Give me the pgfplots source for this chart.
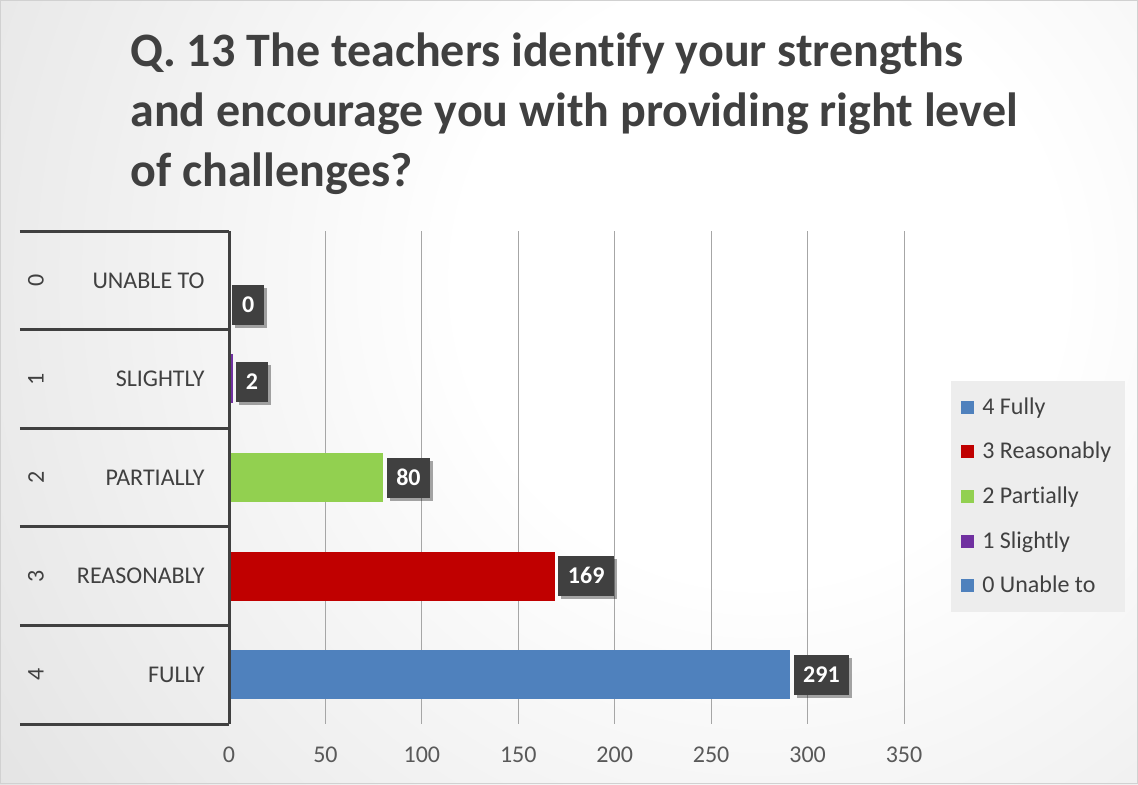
\documentclass[border=0pt]{standalone}
\usepackage{fontspec}
\setmainfont{Carlito}[Ligatures=NoCommon]
\usepackage{pgfplots}
\pgfplotsset{compat=1.18}
\usetikzlibrary{shadows}
\definecolor{txt}{HTML}{404040}
\definecolor{tickc}{HTML}{595959}
\definecolor{cblue}{HTML}{4F81BD}
\definecolor{cred}{HTML}{C00000}
\definecolor{cgreen}{HTML}{92D050}
\definecolor{cpurple}{HTML}{7030A0}
\definecolor{bgdark}{HTML}{BABABA}
\definecolor{gridc}{HTML}{A6A6A6}
\pgfdeclareradialshading{bgshade}{\pgfpoint{0bp}{0bp}}{color(0bp)=(white); color(8bp)=(white); color(50bp)=(bgdark)}

\begin{document}
\begin{tikzpicture}
% background
\begin{scope}
  \clip (0,0) rectangle (569pt,-392pt);
  \fill[bgdark] (0,0) rectangle (569pt,-392pt);
  \shade[shading=bgshade] (380pt,-140pt) circle (470pt);
\end{scope}
\draw[black!18, line width=0.5pt] (0.25pt,-0.25pt) rectangle (568.75pt,-391.75pt);

% title
\begin{scope}[every node/.style={anchor=base west, text=txt, inner sep=0pt, font=\bfseries\fontsize{24}{28}\selectfont}]
  \node at (65pt,-33pt) {Q. 13 The teachers identify your strengths};
  \node at (65pt,-63pt) {and encourage you with providing right level};
  \node at (65pt,-93pt) {of challenges?};
\end{scope}

\begin{axis}[
  at={(114.5pt,-362pt)}, anchor=south west,
  scale only axis, width=337.5pt, height=246.5pt,
  xmin=0, xmax=350, ymin=-0.5, ymax=4.5, y dir=reverse,
  xbar, bar width=24.5pt, bar shift=0pt,
  xtick={0,50,...,350}, ytick={0,1,2,3,4},
  yticklabels={UNABLE TO,SLIGHTLY,PARTIALLY,REASONABLY,FULLY},
  major tick length=0pt,
  axis line style={draw=none},
  xmajorgrids, grid style={gridc, line width=0.5pt},
  /pgf/number format/assume math mode=true,
  xticklabel style={text=tickc, font=\fontsize{12}{14}\selectfont, yshift=-8pt},
  yticklabel style={text=txt, font=\fontsize{12}{14}\selectfont, anchor=east, xshift=-8.7pt},
  clip=false,
  point meta=x,
  nodes near coords={\pgfmathprintnumber{\pgfplotspointmeta}},
  every node near coord/.append style={anchor=west, xshift=1.5pt, fill=txt, text=white,
    font=\bfseries\fontsize{12}{14}\selectfont, inner xsep=4.8pt, inner ysep=6.2pt,
    text height=7.6pt, text depth=0pt,
    drop shadow={shadow xshift=1.5pt, shadow yshift=-1.5pt, opacity=0.35, fill=black}},
  legend style={at={(1.0696,0.6957)}, anchor=north west, fill=black!7, draw=none,
    font=\fontsize{12}{14}\selectfont, text=txt, inner xsep=5pt, inner ysep=6pt, row sep=8.5pt,
    /tikz/every odd column/.append style={column sep=2pt}},
  legend cell align=left,
  legend image code/.code={\fill[#1] (0pt,-3.25pt) rectangle (6.5pt,3.25pt);},
]
\addplot[fill=cblue, draw=none] coordinates {(291,4)};
\addplot[fill=cred, draw=none] coordinates {(169,3)};
\addplot[fill=cgreen, draw=none] coordinates {(80,2)};
\addplot[fill=cpurple, draw=none, every node near coord/.append style={yshift=-1.5pt}] coordinates {(2,1)};
\addplot[fill=cblue, draw=none, every node near coord/.append style={yshift=-12.5pt}] coordinates {(0,0)};
\legend{4 Fully,3 Reasonably,2 Partially,1 Slightly,0 Unable to}

\draw[txt, line width=1.5pt] (axis cs:0,-0.5) -- (axis cs:0,4.5);
\pgfplotsinvokeforeach{-0.5,0.5,1.5,2.5,3.5,4.5}{
  \draw[txt, line width=1.5pt] ([xshift=-104.5pt]axis cs:0,#1) -- (axis cs:0,#1);
}
\pgfplotsinvokeforeach{0,1,2,3,4}{
  \node[rotate=90, text=txt, font=\fontsize{12}{14}\selectfont] at ([xshift=-96.5pt]axis cs:0,#1) {#1};
}
\end{axis}
\end{tikzpicture}
\end{document}
